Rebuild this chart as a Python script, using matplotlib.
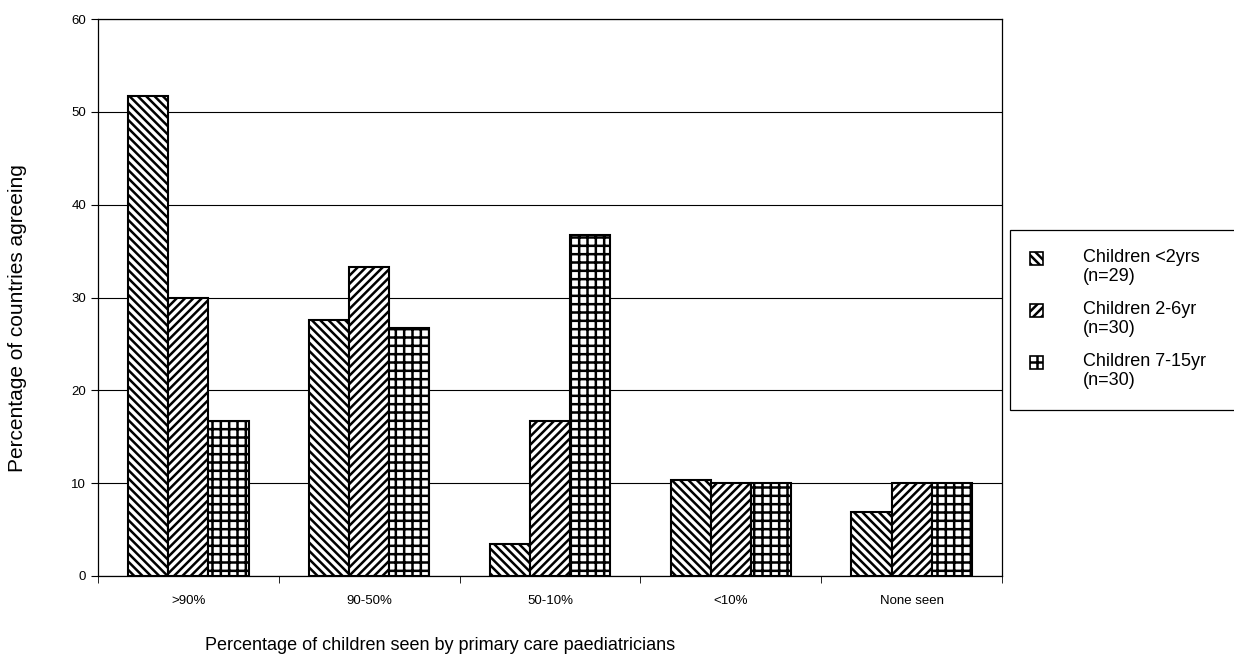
import matplotlib
matplotlib.use('Agg')
import matplotlib.pyplot as plt
from matplotlib.patches import Rectangle
import numpy as np

plt.rcParams['font.family'] = ['Liberation Sans', 'DejaVu Sans']
plt.rcParams['hatch.linewidth'] = 1.8

categories = ['>90%', '90-50%', '50-10%', '<10%', 'None seen']
under_2 = [51.7, 27.6, 3.4, 10.3, 6.9]
age_2_6 = [30.0, 33.3, 16.7, 10.0, 10.0]
age_7_15 = [16.7, 26.7, 36.7, 10.0, 10.0]
series_labels = ['Children <2yrs\n(n=29)', 'Children 2-6yr\n(n=30)', 'Children 7-15yr\n(n=30)']
hatches = ['\\\\\\\\', '////', '++']

W, H = 1234, 664
fig = plt.figure(figsize=(W / 100, H / 100), dpi=100)
ax = fig.add_axes([98 / W, 1 - 576 / H, 904 / W, 557 / H])

x = np.arange(len(categories))
w = 1 / 4.5
for i, (vals, h) in enumerate(zip([under_2, age_2_6, age_7_15], hatches)):
    ax.bar(x + (i - 1) * w, vals, w, facecolor='white', edgecolor='black',
           hatch=h, linewidth=1.5, zorder=3)

ax.set_xlim(-0.5, len(categories) - 0.5)
ax.set_ylim(0, 60)
ax.set_yticks(np.arange(0, 61, 10))
ax.yaxis.grid(True, color='black', linewidth=0.8, zorder=0)
ax.set_axisbelow(True)

# tick marks at the group boundaries, labels centred under each group
ax.set_xticks(x)
ax.set_xticklabels(categories, fontsize=9.5)
ax.tick_params(axis='x', which='major', length=0, pad=14)
ax.set_xticks(np.arange(-0.5, len(categories), 1), minor=True)
ax.tick_params(axis='x', which='minor', length=5, direction='out')
ax.tick_params(axis='y', labelsize=9.5, length=5, direction='out')

for s in ax.spines.values():
    s.set_linewidth(0.9)

fig.text(18 / W, 1 - 318 / H, 'Percentage of countries agreeing', rotation=90,
         ha='center', va='center', fontsize=15)
fig.text(440 / W, 1 - 645 / H, 'Percentage of children seen by primary care paediatricians',
         ha='center', va='center', fontsize=13)

# legend box, running off the right edge
fig.patches.append(Rectangle((1010 / W, 1 - 410 / H), 240 / W, 180 / H,
                             transform=fig.transFigure, facecolor='white',
                             edgecolor='black', linewidth=0.9))
for k, (lab, h) in enumerate(zip(series_labels, hatches)):
    top = 252 + k * 52
    fig.patches.append(Rectangle((1030 / W, 1 - (top + 13) / H), 13 / W, 13 / H,
                                 transform=fig.transFigure, facecolor='white',
                                 edgecolor='black', linewidth=1.2, hatch=h))
    fig.text(1083 / W, 1 - (top - 3) / H, lab, ha='left', va='top',
             fontsize=13, linespacing=1.15)

fig.savefig('out.png', dpi=100)
